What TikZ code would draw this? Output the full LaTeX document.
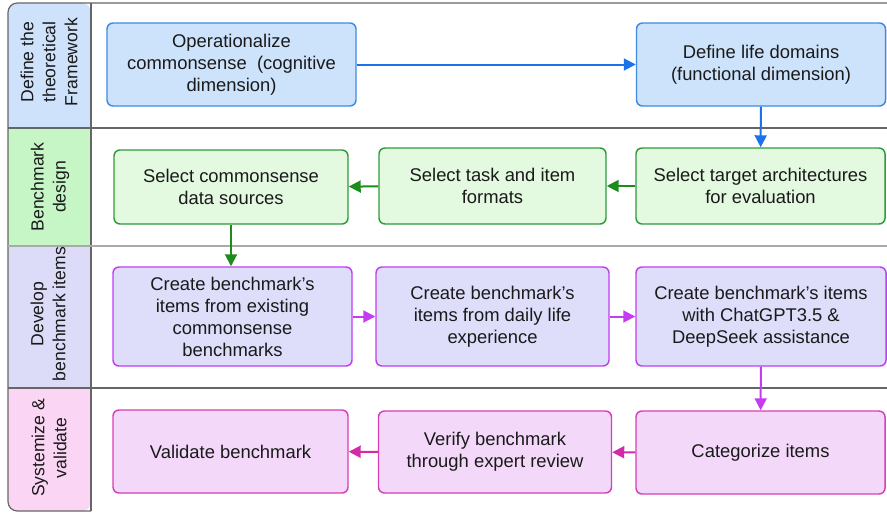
\documentclass[tikz,border=0pt]{standalone}
\usepackage{fontspec}
\setmainfont{Liberation Sans}
\usetikzlibrary{arrows.meta}
\definecolor{hblue}{HTML}{CFE2FB}
\definecolor{hgreen}{HTML}{C6F5C6}
\definecolor{hlav}{HTML}{DCDCF8}
\definecolor{hpink}{HTML}{FAD6F4}
\definecolor{fblue}{HTML}{CDE3FB}
\definecolor{bblue}{HTML}{3D8BE0}
\definecolor{ablue}{HTML}{1A73E8}
\definecolor{fgreen}{HTML}{E3F9E0}
\definecolor{bgreen}{HTML}{2E9B3A}
\definecolor{agreen}{HTML}{1C8C1C}
\definecolor{flav}{HTML}{DEDEFB}
\definecolor{blav}{HTML}{C03EF0}
\definecolor{alav}{HTML}{C33CF0}
\definecolor{fpink}{HTML}{F3D8FA}
\definecolor{bpink}{HTML}{D63FB5}
\definecolor{apink}{HTML}{D42AA8}
\definecolor{lanegray}{HTML}{666666}
\definecolor{lanelight}{HTML}{AAAAAA}
\definecolor{txt}{HTML}{1A1A1A}
\tikzset{
  box/.style={draw, rounded corners=4.5pt, line width=1.1pt, align=center,
    inner sep=2pt, text=txt, font=\fontsize{13.8}{16.5}\selectfont},
  bluebox/.style={box, fill=fblue, draw=bblue},
  greenbox/.style={box, fill=fgreen, draw=bgreen},
  lavbox/.style={box, fill=flav, draw=blav},
  pinkbox/.style={box, fill=fpink, draw=bpink},
  flow/.style={line width=1.5pt, -{Triangle[length=9pt,width=9pt]}},
  lanelabel/.style={rotate=90, align=center, text=txt, font=\fontsize{13.2}{16.5}\selectfont},
  sep/.style={line width=0.9pt, draw=lanegray}
}
\begin{document}
\begin{tikzpicture}[x=0.75pt, y=-0.75pt]
\useasboundingbox (0,0) rectangle (887,514);
% header column fills
\begin{scope}
\clip[rounded corners=7pt] (8,3) rectangle (91,511);
\fill[hblue] (8,3) rectangle (91,128);
\fill[hgreen] (8,128) rectangle (91,246);
\fill[hlav] (8,246) rectangle (91,388);
\fill[hpink] (8,388) rectangle (91,511);
\end{scope}
\draw[sep, rounded corners=7pt] (887,3) -- (8,3) -- (8,511) -- (91,511);
\draw[sep] (91,3) -- (91,511);
\draw[sep] (8,128) -- (887,128);
\draw[line width=0.9pt, draw=lanelight] (8,246) -- (887,246);
\draw[sep] (8,388) -- (887,388);
% lane labels
\node[lanelabel] (L1) at (49,62) {Define the\\theoretical\\Framework};
\node[lanelabel] (L2) at (50,187) {Benchmark\\design};
\node[lanelabel] (L3) at (48,314) {Develop\\benchmark items};
\node[lanelabel] (L4) at (49,448) {Systemize \&\\validate};
% boxes
\node[bluebox, minimum width=249*0.75pt, minimum height=83*0.75pt] (A) at (231.5,64.5)
  {Operationalize\\commonsense\ \ (cognitive\\dimension)};
\node[bluebox, minimum width=249*0.75pt, minimum height=83*0.75pt] (B) at (761,64.5)
  {Define life domains\\(functional dimension)};
\node[greenbox, minimum width=249*0.75pt, minimum height=76*0.75pt] (C) at (760.5,186)
  {Select target architectures\\for evaluation};
\node[greenbox, minimum width=227*0.75pt, minimum height=76*0.75pt] (D) at (492.5,186)
  {Select task and item\\formats};
\node[greenbox, minimum width=234*0.75pt, minimum height=74*0.75pt] (E) at (231,187)
  {Select commonsense\\data sources};
\node[lavbox, minimum width=239*0.75pt, minimum height=99*0.75pt] (F) at (232.5,316.5)
  {Create benchmark's\\items from existing\\commonsense\\benchmarks};
\node[lavbox, minimum width=233*0.75pt, minimum height=99*0.75pt] (G) at (492.5,316.5)
  {Create benchmark's\\items from daily life\\experience};
\node[lavbox, minimum width=250*0.75pt, minimum height=99*0.75pt] (H) at (761,316.5)
  {Create benchmark's items\\with ChatGPT3.5 \&\\DeepSeek assistance};
\node[pinkbox, minimum width=249*0.75pt, minimum height=83*0.75pt] (K) at (760.5,452.5)
  {Categorize items};
\node[pinkbox, minimum width=233*0.75pt, minimum height=82*0.75pt] (J) at (495,452)
  {Verify benchmark\\through expert review};
\node[pinkbox, minimum width=235*0.75pt, minimum height=83*0.75pt] (I) at (230.5,451.5)
  {Validate benchmark};
% connectors
\draw[flow, ablue] (A) -- (B);
\draw[flow, ablue] (B) -- (C);
\draw[flow, agreen] (C) -- (D);
\draw[flow, agreen] (D) -- (E);
\draw[flow, agreen] (E.south) -- (F.north -| E.south);
\draw[flow, alav] (F) -- (G);
\draw[flow, alav] (G) -- (H);
\draw[flow, alav] (H) -- (K);
\draw[flow, apink] (K) -- (J);
\draw[flow, apink] (J) -- (I);
\end{tikzpicture}
\end{document}
